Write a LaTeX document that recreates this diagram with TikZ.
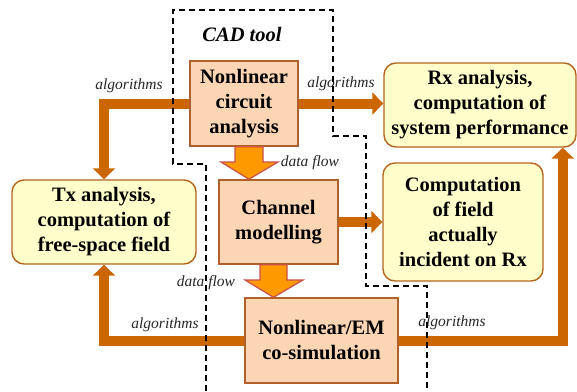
\documentclass[tikz,border=0pt]{standalone}
\usepackage{fontspec}
\setmainfont{Liberation Serif}
\usepackage[dvipsnames]{xcolor}
\usepackage{tikz}
\usetikzlibrary{arrows.meta}
\definecolor{peach}{HTML}{FCD5B4}
\definecolor{peachline}{HTML}{B0602A}
\definecolor{paleyellow}{HTML}{FFFFCC}
\definecolor{yellowline}{HTML}{B5651D}
\definecolor{algobrown}{HTML}{CC6600}
\definecolor{flowfill}{HTML}{FF9900}
\definecolor{flowline}{HTML}{C8504D}
\tikzset{
	tool/.style={draw=peachline, fill=peach, line width=1.4pt, align=center,
		font=\bfseries\fontsize{20.5}{25}\selectfont, inner sep=0pt},
	task/.style={draw=yellowline, fill=paleyellow, line width=1.4pt, rounded corners=12pt,
		align=center, font=\bfseries\fontsize{20.5}{25}\selectfont, inner sep=0pt},
	algo/.style={draw=algobrown, line width=10pt, -{Triangle[width=22pt,length=11pt]}},
	flow/.style={fill=flowfill, draw=flowline, line width=1.2pt, line join=miter},
	lab/.style={font=\itshape\fontsize{15.5}{18}\selectfont, text=black!85, inner sep=0pt}
}

\begin{document}
\begin{tikzpicture}[x=1pt, y=-1pt]
			\useasboundingbox (0,0) rectangle (577,391);
			% boxes
			\node[tool, minimum width=108pt, minimum height=85pt] (nca) at (244,103.5)
				{Nonlinear\\circuit\\analysis};
			\node[tool, minimum width=119pt, minimum height=84pt] (chan) at (278.5,222)
				{Channel\\modelling};
			\node[tool, minimum width=153pt, minimum height=85pt] (nlem) at (321.5,340.5)
				{Nonlinear/EM\\co-simulation};
			\node[task, minimum width=192pt, minimum height=84pt] (rx) at (480,105)
				{Rx analysis,\\computation of\\system performance};
			\node[task, minimum width=160pt, minimum height=118pt] (comp) at (463,222)
				{Computation\\of field\\actually\\incident on Rx};
			\node[task, minimum width=184pt, minimum height=84pt] (tx) at (104,222)
				{Tx analysis,\\computation of\\free-space field};
			% algorithms
			\draw[algo] (nca.west) -| (tx.north);
			\draw[algo] (nca.east) -- (nca.east -| rx.west);
			\draw[algo] (chan.east) -- (comp.west);
			\draw[algo] (nlem.west) -| (tx.south);
			\draw[algo] (nlem.east) -| ([xshift=-14pt]rx.south east);
			% data flow
			\filldraw[flow] (nca.south -| 235,0) -- (nca.south -| 263,0) -- (263,162) -- (278,162)
				-- (chan.north -| 249,0) -- (221,162) -- (235,162) -- cycle;
			\filldraw[flow] (chan.south -| 260,0) -- (chan.south -| 287,0) -- (287,280) -- (303,280)
				-- (nlem.north -| 273.5,0) -- (245,280) -- (260,280) -- cycle;
			% labels
			\node[lab] (alg1) at (129,86) {algorithms};
			\node[lab] (alg2) at (341,84) {algorithms};
			\node[lab] (alg3) at (165,325) {algorithms};
			\node[lab] (alg4) at (452,323) {algorithms};
			\node[lab] (df1) at (310,163) {data flow};
			\node[lab] (df2) at (206,283) {data flow};
			\node[font=\bfseries\itshape\fontsize{20.5}{25}\selectfont, inner sep=0pt] (cad) at (242,34) {CAD tool};
			% CAD tool border
			\draw[dashed, line width=1.2pt, dash pattern=on 6pt off 4pt]
			(206,391) -- (206,164) -- (173,164) -- (173,10) -- (333,10) -- (333,136) -- (366,136)
			-- (366,286) -- (427,286) -- (427,391);
		\end{tikzpicture}
\end{document}
